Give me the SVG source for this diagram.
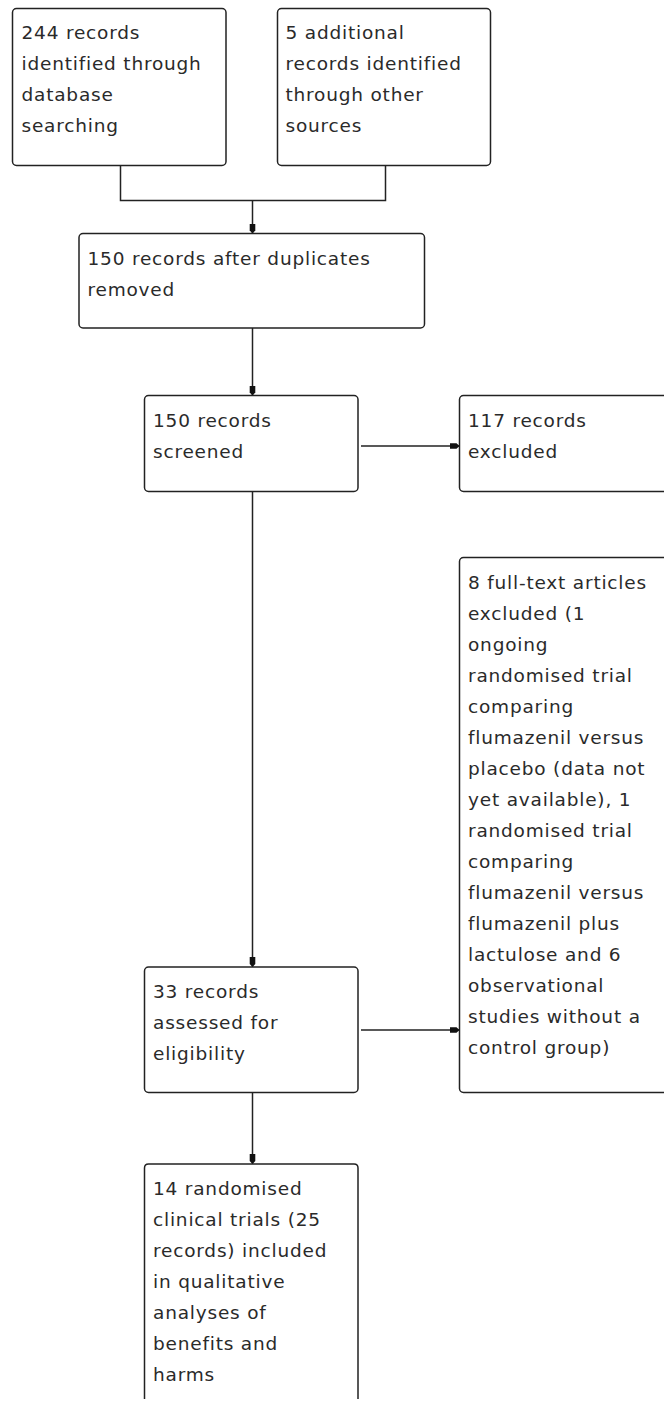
<svg xmlns="http://www.w3.org/2000/svg" width="664" height="1408" viewBox="0 0 664 1408">
<style>
.box{fill:#fff;stroke:#222;stroke-width:1.5}
.t{font-family:"DejaVu Sans","Liberation Sans",sans-serif;font-size:18.5px;letter-spacing:0.8px;fill:#2a2a2a}
.c{fill:none;stroke:#222;stroke-width:1.5}
</style>
<defs>
<marker id="ah" markerUnits="userSpaceOnUse" markerWidth="12" markerHeight="8" refX="10" refY="4" orient="auto">
<path d="M0,1.2 L7,1.2 L10,4 L7,6.8 L0,6.8 z" fill="#111"/>
</marker>
</defs>
<rect width="664" height="1408" fill="#fff"/>
<g id="connectors">
<path class="c" d="M120.5,165.5 V200.5 H385.5 V165.5"/>
<line class="c" x1="252.5" y1="200.5" x2="252.5" y2="233.5" marker-end="url(#ah)"/>
<line class="c" x1="252.5" y1="328" x2="252.5" y2="395.5" marker-end="url(#ah)"/>
<line class="c" x1="361" y1="446" x2="459.5" y2="446" marker-end="url(#ah)"/>
<line class="c" x1="252.5" y1="491.5" x2="252.5" y2="967" marker-end="url(#ah)"/>
<line class="c" x1="361" y1="1030" x2="459.5" y2="1030" marker-end="url(#ah)"/>
<line class="c" x1="252.5" y1="1092.5" x2="252.5" y2="1164" marker-end="url(#ah)"/>
</g>
<g id="n1">
<rect class="box" x="12.5" y="8.5" width="213.5" height="157" rx="4"/>
<text class="t"><tspan x="21.5" y="39">244 records</tspan><tspan x="21.5" y="70">identified through</tspan><tspan x="21.5" y="101">database</tspan><tspan x="21.5" y="132">searching</tspan></text>
</g>
<g id="n2">
<rect class="box" x="277.5" y="8.5" width="213" height="157" rx="4"/>
<text class="t"><tspan x="285.5" y="39">5 additional</tspan><tspan x="285.5" y="70">records identified</tspan><tspan x="285.5" y="101">through other</tspan><tspan x="285.5" y="132">sources</tspan></text>
</g>
<g id="n3">
<rect class="box" x="79" y="233.5" width="345.5" height="94.5" rx="4"/>
<text class="t"><tspan x="87.5" y="264.5">150 records after duplicates</tspan><tspan x="87.5" y="295.5">removed</tspan></text>
</g>
<g id="n4">
<rect class="box" x="144.5" y="395.5" width="213.5" height="96" rx="4"/>
<text class="t"><tspan x="153" y="427">150 records</tspan><tspan x="153" y="458">screened</tspan></text>
</g>
<g id="n5">
<rect class="box" x="459.5" y="395.5" width="230" height="96" rx="4"/>
<text class="t"><tspan x="468" y="427">117 records</tspan><tspan x="468" y="458">excluded</tspan></text>
</g>
<g id="n6">
<rect class="box" x="459.5" y="557.5" width="230" height="535" rx="4"/>
<text class="t"><tspan x="468" y="589">8 full-text articles</tspan><tspan x="468" y="620">excluded (1</tspan><tspan x="468" y="651">ongoing</tspan><tspan x="468" y="682">randomised trial</tspan><tspan x="468" y="713">comparing</tspan><tspan x="468" y="744">flumazenil versus</tspan><tspan x="468" y="775">placebo (data not</tspan><tspan x="468" y="806">yet available), 1</tspan><tspan x="468" y="837">randomised trial</tspan><tspan x="468" y="868">comparing</tspan><tspan x="468" y="899">flumazenil versus</tspan><tspan x="468" y="930">flumazenil plus</tspan><tspan x="468" y="961">lactulose and 6</tspan><tspan x="468" y="992">observational</tspan><tspan x="468" y="1023">studies without a</tspan><tspan x="468" y="1054">control group)</tspan></text>
</g>
<g id="n7">
<rect class="box" x="144.5" y="967" width="213.5" height="125.5" rx="4"/>
<text class="t"><tspan x="153" y="998">33 records</tspan><tspan x="153" y="1029">assessed for</tspan><tspan x="153" y="1060">eligibility</tspan></text>
</g>
<g id="n8">
<path class="box" d="M144.5,1399 V1168 Q144.5,1164 148.5,1164 H354 Q358,1164 358,1168 V1399"/>
<text class="t"><tspan x="153" y="1195">14 randomised</tspan><tspan x="153" y="1226">clinical trials (25</tspan><tspan x="153" y="1257">records) included</tspan><tspan x="153" y="1288">in qualitative</tspan><tspan x="153" y="1319">analyses of</tspan><tspan x="153" y="1350">benefits and</tspan><tspan x="153" y="1381">harms</tspan></text>
</g>
</svg>
